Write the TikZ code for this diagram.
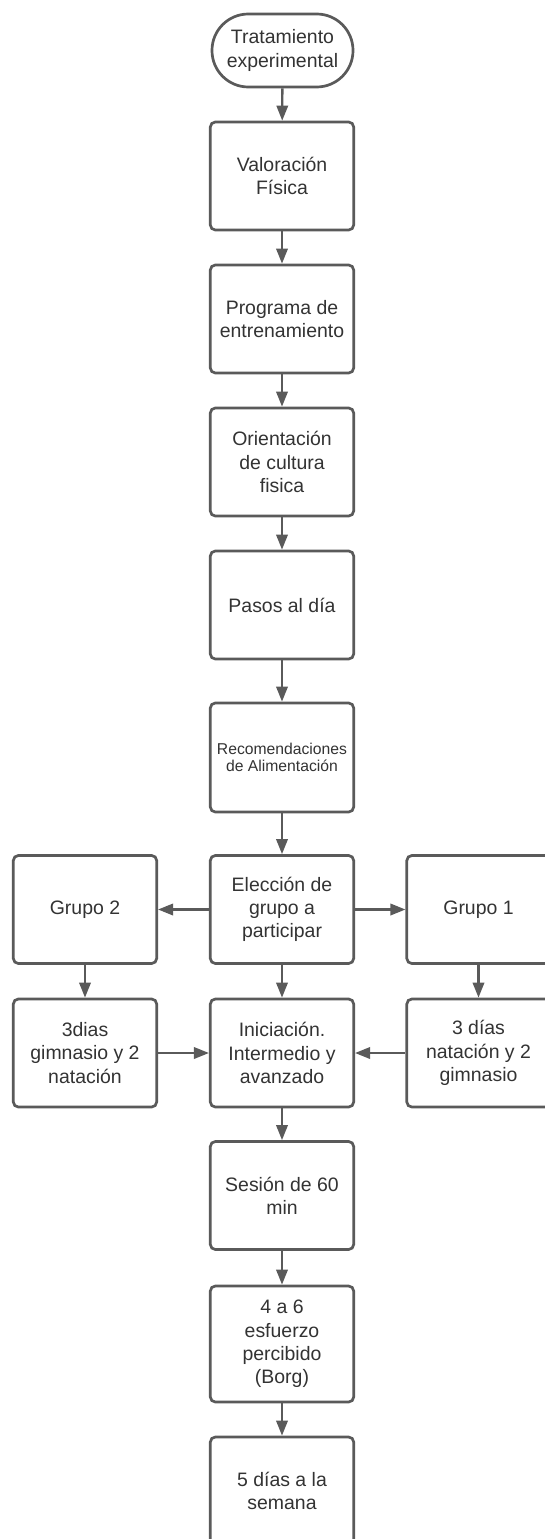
\documentclass[tikz,border=0pt]{standalone}
\usepackage{fontspec}
\setmainfont{Liberation Sans}
\usetikzlibrary{arrows.meta}
\definecolor{linegray}{HTML}{5A5A5A}
\definecolor{textgray}{HTML}{333333}
\begin{document}
\begin{tikzpicture}[x=0.03cm,y=-0.03cm,
	box/.style={draw=linegray,line width=2.3pt,rounded corners=0.15cm,fill=white,
		minimum width=4.3cm,minimum height=3.24cm,align=center,text=textgray,
		font=\fontsize{16.6}{19.9}\selectfont},
	pill/.style={box,minimum width=4.23cm,minimum height=2.19cm,rounded corners=1.09cm},
	link/.style={draw=linegray,line width=2pt,-{Triangle[length=0.45cm,width=0.34cm]}}]
	\clip (0,0) rectangle (545,1539);

	\node[pill] (trat) at (282.5,50.5) {Tratamiento\\experimental};
	\node[box] (valor) at (282,176) {Valoración\\Física};
	\node[box] (prog) at (282,319) {Programa de\\entrenamiento};
	\node[box] (orient) at (282,462) {Orientación\\de cultura\\fisica};
	\node[box] (pasos) at (282,605) {Pasos al día};
	\node[box,minimum height=3.27cm,font=\fontsize{13.4}{15.1}\selectfont] (recom) at (282,757.5) {Recomendaciones\\de Alimentación};
	\node[box] (elec) at (282,909.5) {Elección de\\grupo a\\participar};
	\node[box] (grupo2) at (85,909.5) {Grupo 2};
	\node[box] (grupo1) at (478.5,909.5) {Grupo 1};
	\node[box] (inic) at (282,1053) {Iniciación.\\Intermedio y\\avanzado};
	\node[box] (dias2) at (85,1053) {3dias\\gimnasio y 2\\natación};
	\node[box] (dias1) at (478.5,1053) {3 días\\natación y 2\\gimnasio};
	\node[box] (sesion) at (282,1195.5) {Sesión de 60\\min};
	\node[box,minimum height=3.48cm] (borg) at (282,1344) {4 a 6\\esfuerzo\\percibido\\(Borg)};
	\node[box] (cinco) at (282,1491) {5 días a la\\semana};

	\draw[link] (trat) -- (valor);
	\draw[link] (valor) -- (prog);
	\draw[link] (prog) -- (orient);
	\draw[link] (orient) -- (pasos);
	\draw[link] (pasos) -- (recom);
	\draw[link] (recom) -- (elec);
	\draw[link] (elec) -- (grupo2);
	\draw[link] (elec) -- (grupo1);
	\draw[link] (grupo2) -- (dias2);
	\draw[link] (grupo1) -- (dias1);
	\draw[link] (elec) -- (inic);
	\draw[link] (dias2) -- (inic);
	\draw[link] (dias1) -- (inic);
	\draw[link] (inic) -- (sesion);
	\draw[link] (sesion) -- (borg);
	\draw[link] (borg) -- (cinco);
\end{tikzpicture}
\end{document}
